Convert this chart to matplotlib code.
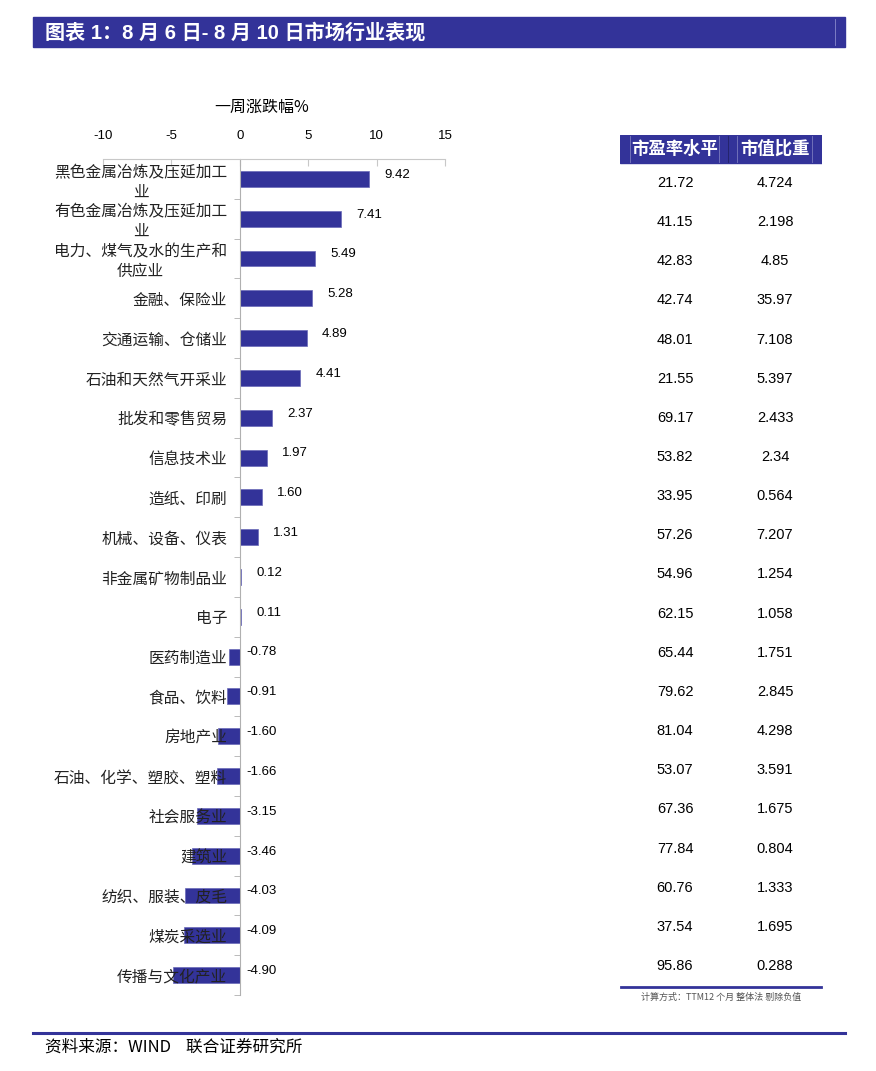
import matplotlib
matplotlib.use("Agg")
import matplotlib.pyplot as plt
import matplotlib.patches as mpatches
import numpy as np

plt.rcParams['font.family'] = ['Liberation Sans', 'Noto Sans CJK SC', 'DejaVu Sans']
plt.rcParams['axes.unicode_minus'] = False

industries = ["黑色金属冶炼及压延加工\n业", "有色金属冶炼及压延加工\n业", "电力、煤气及水的生产和\n供应业",
              "金融、保险业", "交通运输、仓储业", "石油和天然气开采业", "批发和零售贸易", "信息技术业",
              "造纸、印刷", "机械、设备、仪表", "非金属矿物制品业", "电子", "医药制造业", "食品、饮料",
              "房地产业", "石油、化学、塑胶、塑料", "社会服务业", "建筑业", "纺织、服装、皮毛",
              "煤炭采选业", "传播与文化产业"]
weekly_change = [9.42, 7.41, 5.49, 5.28, 4.89, 4.41, 2.37, 1.97, 1.60, 1.31, 0.12, 0.11,
                 -0.78, -0.91, -1.60, -1.66, -3.15, -3.46, -4.03, -4.09, -4.90]
pe_ratio = ["21.72", "41.15", "42.83", "42.74", "48.01", "21.55", "69.17", "53.82", "33.95", "57.26",
            "54.96", "62.15", "65.44", "79.62", "81.04", "53.07", "67.36", "77.84", "60.76", "37.54", "95.86"]
mkt_weight = ["4.724", "2.198", "4.85", "35.97", "7.108", "5.397", "2.433", "2.34", "0.564", "7.207",
              "1.254", "1.058", "1.751", "2.845", "4.298", "3.591", "1.675", "0.804", "1.333", "1.695", "0.288"]
x_ticks = [-10, -5, 0, 5, 10, 15]

BLUE = '#333399'
W, H = 876, 1071
cjk = ['Noto Sans CJK SC', 'DejaVu Sans']

fig = plt.figure(figsize=(W / 100, H / 100), dpi=100)


def fx(px):
    return px / W


def fy(py):
    return 1 - py / H


# title bar
fig.patches.append(mpatches.Rectangle((fx(33), fy(47)), fx(845) - fx(33), fy(17) - fy(47),
                                      transform=fig.transFigure, color=BLUE, zorder=0))
fig.lines.append(plt.Line2D([fx(835), fx(835)], [fy(19), fy(45)], transform=fig.transFigure,
                            color='#8888cc', lw=0.6))
fig.text(fx(45), fy(33), "图表 1：8 月 6 日- 8 月 10 日市场行业表现", color='white', fontsize=14.5,
         fontweight='bold', va='center', ha='left')

# bar chart
n = len(industries)
pos = np.arange(n)
ax = fig.add_axes([fx(103), fy(995), fx(445) - fx(103), fy(159) - fy(995)])
ax.barh(pos, weekly_change, height=0.4, color=BLUE, edgecolor='#6a6ab8', linewidth=0.5, zorder=1)
ax.set_xlim(-10, 15)
ax.set_ylim(n - 0.5, -0.5)

ax.spines['right'].set_visible(False)
ax.spines['bottom'].set_visible(False)
ax.spines['top'].set_color('#c8c8c8')
ax.spines['left'].set_position(('data', 0))
ax.spines['left'].set_color('#b0b0b0')

ax.xaxis.tick_top()
ax.set_xticks(x_ticks)
ax.tick_params(axis='x', direction='in', length=5, color='#c8c8c8', pad=12, labelsize=9.5)

ax.set_yticks(pos)
ax.set_yticklabels(industries, fontfamily=cjk, fontsize=11.3, color='#222222')
for lbl in ax.get_yticklabels():
    lbl.set_multialignment('center')
ax.set_yticks(pos + 0.5, minor=True)
ax.tick_params(axis='y', which='major', length=0, pad=9)
ax.tick_params(axis='y', which='minor', length=4, direction='out', color='#b0b0b0')

for i, v in enumerate(weekly_change):
    base = max(v, 0)
    off = 11 if v > 0 else 5
    ax.annotate(f"{v:.2f}", (base, i), xytext=(off, 3), textcoords='offset points',
                ha='left', va='center', fontsize=9.5)

fig.text(fx(262), fy(107), "一周涨跌幅%", fontfamily=cjk, fontsize=11.5, ha='center', va='center')

# table
tab = fig.add_axes([fx(620), fy(987), fx(822) - fx(620), fy(135) - fy(987)])
tab.set_xlim(620, 822)
tab.set_ylim(987, 135)
tab.axis('off')
tab.add_patch(mpatches.Rectangle((620, 135), 202, 28, color=BLUE, zorder=1))
for xl, c in [(630, '#7a7abf'), (719, '#7a7abf'), (728, '#222266'), (737, '#7a7abf'), (812, '#7a7abf')]:
    tab.plot([xl, xl], [136, 162], color=c, lw=0.6, zorder=2)
tab.text(675, 149, "市盈率水平", fontfamily=cjk, fontsize=12.5, fontweight='bold', color='white',
         ha='center', va='center', zorder=3)
tab.text(775, 149, "市值比重", fontfamily=cjk, fontsize=12.5, fontweight='bold', color='white',
         ha='center', va='center', zorder=3)
row_y = 183 + np.arange(n) * 39.15
for y, pe, wt in zip(row_y, pe_ratio, mkt_weight):
    tab.text(675, y, pe, fontsize=10.5, ha='center', va='center')
    tab.text(775, y, wt, fontsize=10.5, ha='center', va='center')
tab.plot([621, 821], [987, 987], color=BLUE, lw=2, clip_on=False)

fig.text(fx(721), fy(997), "计算方式：TTM12 个月 整体法 剔除负值", fontfamily=['Noto Sans CJK SC'],
         fontsize=6.5, color='#555555', ha='center', va='center')

# footer
fig.lines.append(plt.Line2D([fx(33), fx(845)], [fy(1033), fy(1033)], transform=fig.transFigure,
                            color=BLUE, lw=2.2))
fig.text(fx(45), fy(1047), "资料来源：WIND    联合证券研究所", fontfamily=cjk, fontsize=12,
         ha='left', va='center')

fig.savefig("out.png", dpi=100)
